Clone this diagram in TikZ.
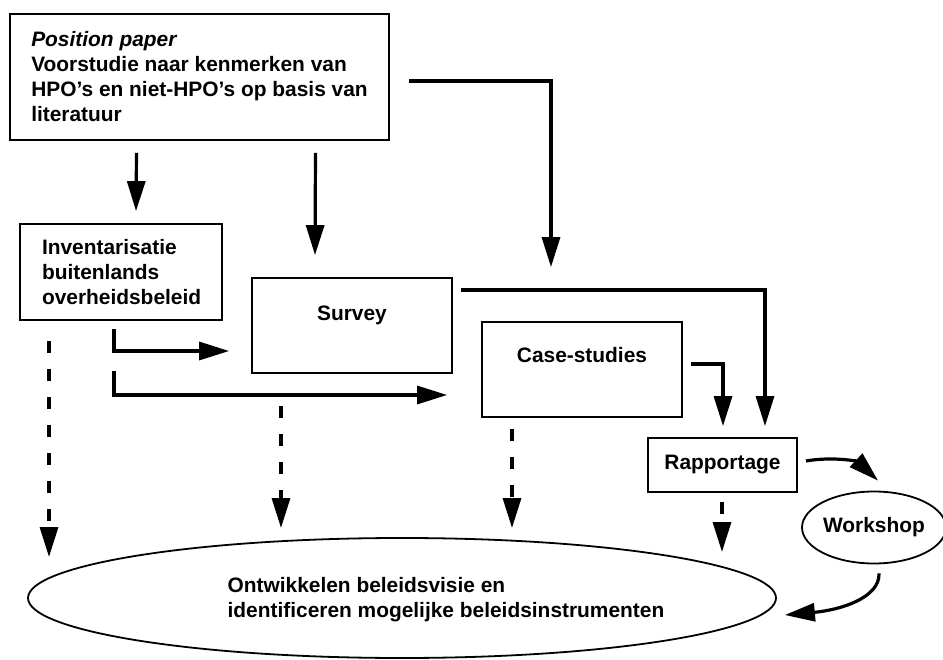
\documentclass[tikz,border=0pt]{standalone}
\usepackage{fontspec}
\setmainfont{Liberation Sans}
\usetikzlibrary{arrows.meta,calc,shapes.geometric}
\begin{document}
\begin{tikzpicture}[x=1pt,y=-1pt,
  font=\fontsize{20.9}{25}\selectfont\bfseries,
  box/.style={draw,line width=1.8pt,rectangle,inner sep=0pt},
  oval/.style={draw,line width=1.8pt,ellipse,inner sep=0pt},
  arr/.style={line width=3.2pt,-{Triangle[length=30pt,width=18pt]}},
  darr/.style={arr,dash pattern=on 12pt off 16pt},
]
\useasboundingbox (0,0) rectangle (943,660);

% boxes
\node[box, minimum width=379pt, minimum height=126pt, align=left, xshift=-1pt] (top) at (200.5,77)
  {\textit{Position paper}\\Voorstudie naar kenmerken van\\HPO's en niet-HPO's op basis van\\literatuur};
\node[box, minimum width=202pt, minimum height=96pt, text width=158pt, inner xsep=22pt, align=left] (inv) at (121,272)
  {Inventarisatie\\buitenlands\\overheidsbeleid};
\node[box, minimum width=200pt, text height=43pt, text depth=52pt] (sur) at (352,325.5) {Survey};
\node[box, minimum width=200pt, text height=41pt, text depth=54pt] (cs) at (582,369.5) {Case-studies};
\node[box, minimum width=149pt, text height=31pt, text depth=23pt] (rap) at (722.5,465) {Rapportage};
\node[oval, minimum width=138pt, minimum height=72pt] (work) at (874,527.5) {Workshop};
\node[oval, minimum width=748pt, minimum height=120pt,
  label={[align=left,anchor=west,xshift=197pt,yshift=-2pt]west:Ontwikkelen beleidsvisie en\\identificeren mogelijke beleidsinstrumenten}]
  (ont) at (402,598) {};

% solid connectors
\draw[arr] ($(top.south)+(-63,12)$) -- ($(inv.north)+(15,-12)$);
\draw[arr] ($(top.south)+(116,12)$) -- ($(sur.north)+(-37,-22)$);
\draw[arr] ($(top.east)+(19.5,4)$) -| ($(cs.north)+(-31,-54)$);
\draw[arr] ($(inv.south)+(-7,8)$) |- ($(sur.west)+(-22,25.5)$);
\draw[arr] ($(inv.south)+(-7,50)$) |- ($(cs.west)+(-34,25.5)$);
\draw[arr] ($(sur.east)+(8,-35.5)$) -| ($(rap.north)+(42.5,-11)$);
\draw[arr] ($(cs.east)+(8,-5.5)$) -| ($(rap.north)+(0.5,-11)$);

% dashed connectors
\draw[darr] ($(inv.south)+(-72,20)$) -- ($(ont.center)+(-353,-41)$);
\draw[darr] ($(sur.south)+(-71,32)$) -- ($(ont.center)+(-121,-70)$);
\draw[darr] ($(cs.south)+(-70,11)$) -- ($(ont.center)+(110,-70)$);
\draw[darr] ($(rap.south)+(-0.5,9)$) -- ($(ont.center)+(320,-46)$);

% curved connectors
\draw[arr] ($(rap.east)+(8,-4)$) .. controls (835,456) and (858,462) .. ($(work.north)+(4,-10)$);
\draw[arr] ($(work.south)+(5,9)$) .. controls (880,598) and (840,610) .. ($(ont.east)+(8,17)$);
\end{tikzpicture}
\end{document}
